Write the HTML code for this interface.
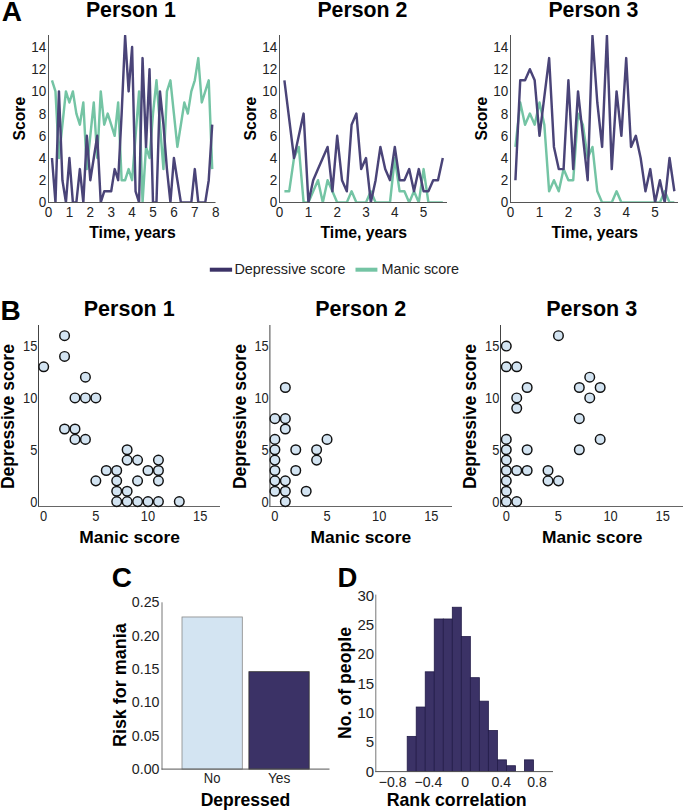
<!DOCTYPE html>
<html><head><meta charset="utf-8"><style>
html,body{margin:0;padding:0;background:#fff;}
svg{display:block;font-family:"Liberation Sans", sans-serif;}
</style></head><body>
<svg width="685" height="811" viewBox="0 0 685 811">
<rect width="685" height="811" fill="#fff"/>
<text x="1.8" y="21.4" font-size="28" font-weight="bold" text-anchor="start" fill="#000">A</text>
<text x="0.5" y="319.8" font-size="28" font-weight="bold" text-anchor="start" fill="#000">B</text>
<text x="111.7" y="586.8" font-size="28" font-weight="bold" text-anchor="start" fill="#000">C</text>
<text x="337.6" y="586.6" font-size="27.5" font-weight="bold" text-anchor="start" fill="#000">D</text>
<text x="130.9" y="16.8" font-size="21.3" font-weight="bold" text-anchor="middle" fill="#000">Person 1</text>
<clipPath id="ca0"><rect x="48.5" y="35" width="167.0" height="167.4"/></clipPath>
<g clip-path="url(#ca0)">
<polyline points="51.98,80.30 55.47,91.40 58.95,158.00 62.43,124.70 65.92,91.40 69.40,102.50 72.88,91.40 76.37,113.60 79.85,124.70 83.33,102.50 86.82,169.10 90.30,135.80 93.78,102.50 97.27,158.00 100.75,91.40 104.23,124.70 107.72,113.60 111.20,124.70 114.68,135.80 118.17,102.50 121.65,180.20 125.13,180.20 128.62,169.10 132.10,180.20 135.58,135.80 139.07,91.40 142.55,202.40 146.03,146.90 149.52,158.00 153.00,113.60 156.48,80.30 159.97,124.70 163.45,169.10 166.93,91.40 170.42,80.30 173.90,113.60 177.38,146.90 180.87,124.70 184.35,102.50 187.83,113.60 191.32,91.40 194.80,80.30 198.28,58.10 201.77,102.50 205.25,91.40 208.73,80.30 212.22,169.10" fill="none" stroke="#74c4a4" stroke-width="2.45" stroke-linejoin="round"/>
<polyline points="51.98,158.00 55.47,202.40 58.95,91.40 62.43,180.20 65.92,202.40 69.40,158.00 72.88,202.40 76.37,202.40 79.85,169.10 83.33,202.40 86.82,135.80 90.30,180.20 93.78,158.00 97.27,135.80 100.75,202.40 104.23,191.30 107.72,191.30 111.20,191.30 114.68,169.10 118.17,180.20 121.65,113.60 125.13,35.90 128.62,91.40 132.10,47.00 135.58,191.30 139.07,202.40 142.55,58.10 146.03,146.90 149.52,69.20 153.00,202.40 156.48,202.40 159.97,91.40 163.45,124.70 166.93,169.10 170.42,202.40 173.90,158.00 177.38,180.20 180.87,202.40 184.35,202.40 187.83,202.40 191.32,202.40 194.80,169.10 198.28,202.40 201.77,202.40 205.25,202.40 208.73,180.20 212.22,124.70" fill="none" stroke="#4a4478" stroke-width="2.45" stroke-linejoin="round"/>
</g>
<line x1="48.5" y1="35" x2="48.5" y2="203" stroke="#555555" stroke-width="1"/>
<line x1="48.0" y1="202.5" x2="215.5" y2="202.5" stroke="#555555" stroke-width="1"/>
<text x="46.2" y="207.3" font-size="15" font-weight="normal" text-anchor="end" fill="#222" textLength="7.51" lengthAdjust="spacingAndGlyphs">0</text>
<text x="46.2" y="185.10000000000002" font-size="15" font-weight="normal" text-anchor="end" fill="#222" textLength="7.51" lengthAdjust="spacingAndGlyphs">2</text>
<text x="46.2" y="162.9" font-size="15" font-weight="normal" text-anchor="end" fill="#222" textLength="7.51" lengthAdjust="spacingAndGlyphs">4</text>
<text x="46.2" y="140.70000000000002" font-size="15" font-weight="normal" text-anchor="end" fill="#222" textLength="7.51" lengthAdjust="spacingAndGlyphs">6</text>
<text x="46.2" y="118.50000000000001" font-size="15" font-weight="normal" text-anchor="end" fill="#222" textLength="7.51" lengthAdjust="spacingAndGlyphs">8</text>
<text x="46.2" y="96.30000000000001" font-size="15" font-weight="normal" text-anchor="end" fill="#222" textLength="15.01" lengthAdjust="spacingAndGlyphs">10</text>
<text x="46.2" y="74.10000000000002" font-size="15" font-weight="normal" text-anchor="end" fill="#222" textLength="15.01" lengthAdjust="spacingAndGlyphs">12</text>
<text x="46.2" y="51.9" font-size="15" font-weight="normal" text-anchor="end" fill="#222" textLength="15.01" lengthAdjust="spacingAndGlyphs">14</text>
<text x="48.5" y="217.3" font-size="15" font-weight="normal" text-anchor="middle" fill="#222" textLength="7.51" lengthAdjust="spacingAndGlyphs">0</text>
<text x="69.4" y="217.3" font-size="15" font-weight="normal" text-anchor="middle" fill="#222" textLength="7.51" lengthAdjust="spacingAndGlyphs">1</text>
<text x="90.3" y="217.3" font-size="15" font-weight="normal" text-anchor="middle" fill="#222" textLength="7.51" lengthAdjust="spacingAndGlyphs">2</text>
<text x="111.19999999999999" y="217.3" font-size="15" font-weight="normal" text-anchor="middle" fill="#222" textLength="7.51" lengthAdjust="spacingAndGlyphs">3</text>
<text x="132.1" y="217.3" font-size="15" font-weight="normal" text-anchor="middle" fill="#222" textLength="7.51" lengthAdjust="spacingAndGlyphs">4</text>
<text x="153.0" y="217.3" font-size="15" font-weight="normal" text-anchor="middle" fill="#222" textLength="7.51" lengthAdjust="spacingAndGlyphs">5</text>
<text x="173.89999999999998" y="217.3" font-size="15" font-weight="normal" text-anchor="middle" fill="#222" textLength="7.51" lengthAdjust="spacingAndGlyphs">6</text>
<text x="194.79999999999998" y="217.3" font-size="15" font-weight="normal" text-anchor="middle" fill="#222" textLength="7.51" lengthAdjust="spacingAndGlyphs">7</text>
<text x="215.7" y="217.3" font-size="15" font-weight="normal" text-anchor="middle" fill="#222" textLength="7.51" lengthAdjust="spacingAndGlyphs">8</text>
<text x="132.5" y="237.6" font-size="15.8" font-weight="bold" text-anchor="middle" fill="#000" textLength="86.6" lengthAdjust="spacingAndGlyphs">Time, years</text>
<text x="24.7" y="118.6" font-size="16.2" font-weight="bold" text-anchor="middle" fill="#000" transform="rotate(-90 24.7 118.6)" textLength="43.6" lengthAdjust="spacingAndGlyphs">Score</text>
<text x="362.4" y="16.8" font-size="21.3" font-weight="bold" text-anchor="middle" fill="#000">Person 2</text>
<clipPath id="ca1"><rect x="279.6" y="35" width="167.39999999999998" height="167.4"/></clipPath>
<g clip-path="url(#ca1)">
<polyline points="284.40,191.30 289.20,191.30 294.00,158.00 298.80,146.90 303.60,202.40 308.40,202.40 313.20,191.30 318.00,180.20 322.80,202.40 327.60,180.20 332.40,191.30 337.20,202.40 342.00,202.40 346.80,202.40 351.60,191.30 356.40,202.40 361.20,202.40 366.00,202.40 370.80,191.30 375.60,202.40 380.40,202.40 385.20,202.40 390.00,202.40 394.80,158.00 399.60,191.30 404.40,191.30 409.20,202.40 414.00,191.30 418.80,202.40 423.60,169.10 428.40,202.40 433.20,202.40 438.00,202.40 442.80,202.40" fill="none" stroke="#74c4a4" stroke-width="2.45" stroke-linejoin="round"/>
<polyline points="284.40,80.30 289.20,119.15 294.00,158.00 298.80,135.80 303.60,113.60 308.40,202.40 313.20,180.20 318.00,169.10 322.80,158.00 327.60,146.90 332.40,191.30 337.20,135.80 342.00,180.20 346.80,191.30 351.60,124.70 356.40,113.60 361.20,169.10 366.00,158.00 370.80,202.40 375.60,180.20 380.40,146.90 385.20,169.10 390.00,180.20 394.80,146.90 399.60,180.20 404.40,180.20 409.20,169.10 414.00,191.30 418.80,169.10 423.60,191.30 428.40,191.30 433.20,180.20 438.00,180.20 442.80,158.00" fill="none" stroke="#4a4478" stroke-width="2.45" stroke-linejoin="round"/>
</g>
<line x1="279.5" y1="35" x2="279.5" y2="203" stroke="#555555" stroke-width="1"/>
<line x1="279.0" y1="202.5" x2="447" y2="202.5" stroke="#555555" stroke-width="1"/>
<text x="277.3" y="207.3" font-size="15" font-weight="normal" text-anchor="end" fill="#222" textLength="7.51" lengthAdjust="spacingAndGlyphs">0</text>
<text x="277.3" y="185.10000000000002" font-size="15" font-weight="normal" text-anchor="end" fill="#222" textLength="7.51" lengthAdjust="spacingAndGlyphs">2</text>
<text x="277.3" y="162.9" font-size="15" font-weight="normal" text-anchor="end" fill="#222" textLength="7.51" lengthAdjust="spacingAndGlyphs">4</text>
<text x="277.3" y="140.70000000000002" font-size="15" font-weight="normal" text-anchor="end" fill="#222" textLength="7.51" lengthAdjust="spacingAndGlyphs">6</text>
<text x="277.3" y="118.50000000000001" font-size="15" font-weight="normal" text-anchor="end" fill="#222" textLength="7.51" lengthAdjust="spacingAndGlyphs">8</text>
<text x="277.3" y="96.30000000000001" font-size="15" font-weight="normal" text-anchor="end" fill="#222" textLength="15.01" lengthAdjust="spacingAndGlyphs">10</text>
<text x="277.3" y="74.10000000000002" font-size="15" font-weight="normal" text-anchor="end" fill="#222" textLength="15.01" lengthAdjust="spacingAndGlyphs">12</text>
<text x="277.3" y="51.9" font-size="15" font-weight="normal" text-anchor="end" fill="#222" textLength="15.01" lengthAdjust="spacingAndGlyphs">14</text>
<text x="279.6" y="217.3" font-size="15" font-weight="normal" text-anchor="middle" fill="#222" textLength="7.51" lengthAdjust="spacingAndGlyphs">0</text>
<text x="308.40000000000003" y="217.3" font-size="15" font-weight="normal" text-anchor="middle" fill="#222" textLength="7.51" lengthAdjust="spacingAndGlyphs">1</text>
<text x="337.20000000000005" y="217.3" font-size="15" font-weight="normal" text-anchor="middle" fill="#222" textLength="7.51" lengthAdjust="spacingAndGlyphs">2</text>
<text x="366.0" y="217.3" font-size="15" font-weight="normal" text-anchor="middle" fill="#222" textLength="7.51" lengthAdjust="spacingAndGlyphs">3</text>
<text x="394.8" y="217.3" font-size="15" font-weight="normal" text-anchor="middle" fill="#222" textLength="7.51" lengthAdjust="spacingAndGlyphs">4</text>
<text x="423.6" y="217.3" font-size="15" font-weight="normal" text-anchor="middle" fill="#222" textLength="7.51" lengthAdjust="spacingAndGlyphs">5</text>
<text x="363.8" y="237.6" font-size="15.8" font-weight="bold" text-anchor="middle" fill="#000" textLength="86.6" lengthAdjust="spacingAndGlyphs">Time, years</text>
<text x="255.8" y="118.6" font-size="16.2" font-weight="bold" text-anchor="middle" fill="#000" transform="rotate(-90 255.8 118.6)" textLength="43.6" lengthAdjust="spacingAndGlyphs">Score</text>
<text x="593.4" y="16.8" font-size="21.3" font-weight="bold" text-anchor="middle" fill="#000">Person 3</text>
<clipPath id="ca2"><rect x="510.6" y="35" width="167.39999999999998" height="167.4"/></clipPath>
<g clip-path="url(#ca2)">
<polyline points="515.42,146.90 520.23,102.50 525.05,124.70 529.87,113.60 534.68,124.70 539.50,102.50 544.32,124.70 549.13,191.30 553.95,180.20 558.77,191.30 563.58,169.10 568.40,180.20 573.22,180.20 578.03,113.60 582.85,124.70 587.67,158.00 592.48,146.90 597.30,191.30 602.12,202.40 606.93,202.40 611.75,202.40 616.57,191.30 621.38,202.40 626.20,202.40 631.02,202.40 635.83,202.40 640.65,202.40 645.47,202.40 650.28,202.40 655.10,202.40 659.92,202.40 664.73,191.30 669.55,202.40 674.37,202.40" fill="none" stroke="#74c4a4" stroke-width="2.45" stroke-linejoin="round"/>
<polyline points="515.42,180.20 520.23,80.30 525.05,80.30 529.87,69.20 534.68,80.30 539.50,135.80 544.32,96.95 549.13,58.10 553.95,146.90 558.77,169.10 563.58,169.10 568.40,80.30 573.22,169.10 578.03,91.40 582.85,135.80 587.67,180.20 592.48,35.90 597.30,102.50 602.12,146.90 606.93,35.90 611.75,169.10 616.57,91.40 621.38,135.80 626.20,58.10 631.02,146.90 635.83,135.80 640.65,158.00 645.47,191.30 650.28,169.10 655.10,202.40 659.92,180.20 664.73,202.40 669.55,158.00 674.37,191.30" fill="none" stroke="#4a4478" stroke-width="2.45" stroke-linejoin="round"/>
</g>
<line x1="510.5" y1="35" x2="510.5" y2="203" stroke="#555555" stroke-width="1"/>
<line x1="510.0" y1="202.5" x2="678" y2="202.5" stroke="#555555" stroke-width="1"/>
<text x="508.3" y="207.3" font-size="15" font-weight="normal" text-anchor="end" fill="#222" textLength="7.51" lengthAdjust="spacingAndGlyphs">0</text>
<text x="508.3" y="185.10000000000002" font-size="15" font-weight="normal" text-anchor="end" fill="#222" textLength="7.51" lengthAdjust="spacingAndGlyphs">2</text>
<text x="508.3" y="162.9" font-size="15" font-weight="normal" text-anchor="end" fill="#222" textLength="7.51" lengthAdjust="spacingAndGlyphs">4</text>
<text x="508.3" y="140.70000000000002" font-size="15" font-weight="normal" text-anchor="end" fill="#222" textLength="7.51" lengthAdjust="spacingAndGlyphs">6</text>
<text x="508.3" y="118.50000000000001" font-size="15" font-weight="normal" text-anchor="end" fill="#222" textLength="7.51" lengthAdjust="spacingAndGlyphs">8</text>
<text x="508.3" y="96.30000000000001" font-size="15" font-weight="normal" text-anchor="end" fill="#222" textLength="15.01" lengthAdjust="spacingAndGlyphs">10</text>
<text x="508.3" y="74.10000000000002" font-size="15" font-weight="normal" text-anchor="end" fill="#222" textLength="15.01" lengthAdjust="spacingAndGlyphs">12</text>
<text x="508.3" y="51.9" font-size="15" font-weight="normal" text-anchor="end" fill="#222" textLength="15.01" lengthAdjust="spacingAndGlyphs">14</text>
<text x="510.6" y="217.3" font-size="15" font-weight="normal" text-anchor="middle" fill="#222" textLength="7.51" lengthAdjust="spacingAndGlyphs">0</text>
<text x="539.5" y="217.3" font-size="15" font-weight="normal" text-anchor="middle" fill="#222" textLength="7.51" lengthAdjust="spacingAndGlyphs">1</text>
<text x="568.4" y="217.3" font-size="15" font-weight="normal" text-anchor="middle" fill="#222" textLength="7.51" lengthAdjust="spacingAndGlyphs">2</text>
<text x="597.3" y="217.3" font-size="15" font-weight="normal" text-anchor="middle" fill="#222" textLength="7.51" lengthAdjust="spacingAndGlyphs">3</text>
<text x="626.2" y="217.3" font-size="15" font-weight="normal" text-anchor="middle" fill="#222" textLength="7.51" lengthAdjust="spacingAndGlyphs">4</text>
<text x="655.1" y="217.3" font-size="15" font-weight="normal" text-anchor="middle" fill="#222" textLength="7.51" lengthAdjust="spacingAndGlyphs">5</text>
<text x="594.8" y="237.6" font-size="15.8" font-weight="bold" text-anchor="middle" fill="#000" textLength="86.6" lengthAdjust="spacingAndGlyphs">Time, years</text>
<text x="486.8" y="118.6" font-size="16.2" font-weight="bold" text-anchor="middle" fill="#000" transform="rotate(-90 486.8 118.6)" textLength="43.6" lengthAdjust="spacingAndGlyphs">Score</text>
<rect x="209.8" y="267.7" width="22.3" height="4" fill="#3b3266"/>
<text x="234.4" y="273.8" font-size="14.4" font-weight="normal" text-anchor="start" fill="#222">Depressive score</text>
<rect x="355.5" y="267.7" width="21.9" height="4" fill="#74c4a4"/>
<text x="381.5" y="273.8" font-size="14.4" font-weight="normal" text-anchor="start" fill="#222">Manic score</text>
<text x="129.2" y="315.5" font-size="21.5" font-weight="bold" text-anchor="middle" fill="#000">Person 1</text>
<line x1="38.5" y1="325" x2="38.5" y2="507.0" stroke="#444" stroke-width="1"/>
<line x1="38.0" y1="506.5" x2="220" y2="506.5" stroke="#666" stroke-width="1.2"/>
<text x="37.3" y="506.5" font-size="14.3" font-weight="normal" text-anchor="end" fill="#222" textLength="7.16" lengthAdjust="spacingAndGlyphs">0</text>
<text x="37.3" y="454.65" font-size="14.3" font-weight="normal" text-anchor="end" fill="#222" textLength="7.16" lengthAdjust="spacingAndGlyphs">5</text>
<text x="37.3" y="402.8" font-size="14.3" font-weight="normal" text-anchor="end" fill="#222" textLength="14.31" lengthAdjust="spacingAndGlyphs">10</text>
<text x="37.3" y="350.95000000000005" font-size="14.3" font-weight="normal" text-anchor="end" fill="#222" textLength="14.31" lengthAdjust="spacingAndGlyphs">15</text>
<text x="43.7" y="520.8" font-size="14.3" font-weight="normal" text-anchor="middle" fill="#222" textLength="7.16" lengthAdjust="spacingAndGlyphs">0</text>
<text x="95.85" y="520.8" font-size="14.3" font-weight="normal" text-anchor="middle" fill="#222" textLength="7.16" lengthAdjust="spacingAndGlyphs">5</text>
<text x="148.0" y="520.8" font-size="14.3" font-weight="normal" text-anchor="middle" fill="#222" textLength="14.31" lengthAdjust="spacingAndGlyphs">10</text>
<text x="200.14999999999998" y="520.8" font-size="14.3" font-weight="normal" text-anchor="middle" fill="#222" textLength="14.31" lengthAdjust="spacingAndGlyphs">15</text>
<text x="129.60000000000002" y="543.3" font-size="17" font-weight="bold" text-anchor="middle" fill="#000" textLength="100.6" lengthAdjust="spacingAndGlyphs">Manic score</text>
<text x="14.3" y="416.6" font-size="17.5" font-weight="bold" text-anchor="middle" fill="#000" transform="rotate(-90 14.3 416.6)" textLength="145" lengthAdjust="spacingAndGlyphs">Depressive score</text>
<circle cx="43.70" cy="366.79" r="4.8" fill="#d3e4f2" stroke="#111" stroke-width="1.45"/>
<circle cx="64.56" cy="335.68" r="4.8" fill="#d3e4f2" stroke="#111" stroke-width="1.45"/>
<circle cx="64.56" cy="356.42" r="4.8" fill="#d3e4f2" stroke="#111" stroke-width="1.45"/>
<circle cx="85.42" cy="377.16" r="4.8" fill="#d3e4f2" stroke="#111" stroke-width="1.45"/>
<circle cx="74.99" cy="397.90" r="4.8" fill="#d3e4f2" stroke="#111" stroke-width="1.45"/>
<circle cx="85.42" cy="397.90" r="4.8" fill="#d3e4f2" stroke="#111" stroke-width="1.45"/>
<circle cx="95.85" cy="397.90" r="4.8" fill="#d3e4f2" stroke="#111" stroke-width="1.45"/>
<circle cx="64.56" cy="429.01" r="4.8" fill="#d3e4f2" stroke="#111" stroke-width="1.45"/>
<circle cx="74.99" cy="429.01" r="4.8" fill="#d3e4f2" stroke="#111" stroke-width="1.45"/>
<circle cx="74.99" cy="439.38" r="4.8" fill="#d3e4f2" stroke="#111" stroke-width="1.45"/>
<circle cx="85.42" cy="439.38" r="4.8" fill="#d3e4f2" stroke="#111" stroke-width="1.45"/>
<circle cx="127.14" cy="449.75" r="4.8" fill="#d3e4f2" stroke="#111" stroke-width="1.45"/>
<circle cx="127.14" cy="460.12" r="4.8" fill="#d3e4f2" stroke="#111" stroke-width="1.45"/>
<circle cx="137.57" cy="460.12" r="4.8" fill="#d3e4f2" stroke="#111" stroke-width="1.45"/>
<circle cx="158.43" cy="460.12" r="4.8" fill="#d3e4f2" stroke="#111" stroke-width="1.45"/>
<circle cx="106.28" cy="470.49" r="4.8" fill="#d3e4f2" stroke="#111" stroke-width="1.45"/>
<circle cx="116.71" cy="470.49" r="4.8" fill="#d3e4f2" stroke="#111" stroke-width="1.45"/>
<circle cx="148.00" cy="470.49" r="4.8" fill="#d3e4f2" stroke="#111" stroke-width="1.45"/>
<circle cx="158.43" cy="470.49" r="4.8" fill="#d3e4f2" stroke="#111" stroke-width="1.45"/>
<circle cx="95.85" cy="480.86" r="4.8" fill="#d3e4f2" stroke="#111" stroke-width="1.45"/>
<circle cx="116.71" cy="480.86" r="4.8" fill="#d3e4f2" stroke="#111" stroke-width="1.45"/>
<circle cx="137.57" cy="480.86" r="4.8" fill="#d3e4f2" stroke="#111" stroke-width="1.45"/>
<circle cx="158.43" cy="480.86" r="4.8" fill="#d3e4f2" stroke="#111" stroke-width="1.45"/>
<circle cx="116.71" cy="491.23" r="4.8" fill="#d3e4f2" stroke="#111" stroke-width="1.45"/>
<circle cx="127.14" cy="491.23" r="4.8" fill="#d3e4f2" stroke="#111" stroke-width="1.45"/>
<circle cx="116.71" cy="501.60" r="4.8" fill="#d3e4f2" stroke="#111" stroke-width="1.45"/>
<circle cx="127.14" cy="501.60" r="4.8" fill="#d3e4f2" stroke="#111" stroke-width="1.45"/>
<circle cx="137.57" cy="501.60" r="4.8" fill="#d3e4f2" stroke="#111" stroke-width="1.45"/>
<circle cx="148.00" cy="501.60" r="4.8" fill="#d3e4f2" stroke="#111" stroke-width="1.45"/>
<circle cx="158.43" cy="501.60" r="4.8" fill="#d3e4f2" stroke="#111" stroke-width="1.45"/>
<circle cx="179.29" cy="501.60" r="4.8" fill="#d3e4f2" stroke="#111" stroke-width="1.45"/>
<text x="360.7" y="315.5" font-size="21.5" font-weight="bold" text-anchor="middle" fill="#000">Person 2</text>
<line x1="269.9" y1="325" x2="269.9" y2="507.0" stroke="#444" stroke-width="1"/>
<line x1="269.4" y1="506.5" x2="452" y2="506.5" stroke="#666" stroke-width="1.2"/>
<text x="268.7" y="506.5" font-size="14.3" font-weight="normal" text-anchor="end" fill="#222" textLength="7.16" lengthAdjust="spacingAndGlyphs">0</text>
<text x="268.7" y="454.65" font-size="14.3" font-weight="normal" text-anchor="end" fill="#222" textLength="7.16" lengthAdjust="spacingAndGlyphs">5</text>
<text x="268.7" y="402.8" font-size="14.3" font-weight="normal" text-anchor="end" fill="#222" textLength="14.31" lengthAdjust="spacingAndGlyphs">10</text>
<text x="268.7" y="350.95000000000005" font-size="14.3" font-weight="normal" text-anchor="end" fill="#222" textLength="14.31" lengthAdjust="spacingAndGlyphs">15</text>
<text x="274.9" y="520.8" font-size="14.3" font-weight="normal" text-anchor="middle" fill="#222" textLength="7.16" lengthAdjust="spacingAndGlyphs">0</text>
<text x="327.04999999999995" y="520.8" font-size="14.3" font-weight="normal" text-anchor="middle" fill="#222" textLength="7.16" lengthAdjust="spacingAndGlyphs">5</text>
<text x="379.2" y="520.8" font-size="14.3" font-weight="normal" text-anchor="middle" fill="#222" textLength="14.31" lengthAdjust="spacingAndGlyphs">10</text>
<text x="431.34999999999997" y="520.8" font-size="14.3" font-weight="normal" text-anchor="middle" fill="#222" textLength="14.31" lengthAdjust="spacingAndGlyphs">15</text>
<text x="360.79999999999995" y="543.3" font-size="17" font-weight="bold" text-anchor="middle" fill="#000" textLength="100.6" lengthAdjust="spacingAndGlyphs">Manic score</text>
<text x="245.7" y="416.6" font-size="17.5" font-weight="bold" text-anchor="middle" fill="#000" transform="rotate(-90 245.7 416.6)" textLength="145" lengthAdjust="spacingAndGlyphs">Depressive score</text>
<circle cx="285.33" cy="387.53" r="4.8" fill="#d3e4f2" stroke="#111" stroke-width="1.45"/>
<circle cx="274.90" cy="418.64" r="4.8" fill="#d3e4f2" stroke="#111" stroke-width="1.45"/>
<circle cx="285.33" cy="418.64" r="4.8" fill="#d3e4f2" stroke="#111" stroke-width="1.45"/>
<circle cx="285.33" cy="429.01" r="4.8" fill="#d3e4f2" stroke="#111" stroke-width="1.45"/>
<circle cx="274.90" cy="439.38" r="4.8" fill="#d3e4f2" stroke="#111" stroke-width="1.45"/>
<circle cx="327.05" cy="439.38" r="4.8" fill="#d3e4f2" stroke="#111" stroke-width="1.45"/>
<circle cx="274.90" cy="449.75" r="4.8" fill="#d3e4f2" stroke="#111" stroke-width="1.45"/>
<circle cx="295.76" cy="449.75" r="4.8" fill="#d3e4f2" stroke="#111" stroke-width="1.45"/>
<circle cx="316.62" cy="449.75" r="4.8" fill="#d3e4f2" stroke="#111" stroke-width="1.45"/>
<circle cx="274.90" cy="460.12" r="4.8" fill="#d3e4f2" stroke="#111" stroke-width="1.45"/>
<circle cx="316.62" cy="460.12" r="4.8" fill="#d3e4f2" stroke="#111" stroke-width="1.45"/>
<circle cx="274.90" cy="470.49" r="4.8" fill="#d3e4f2" stroke="#111" stroke-width="1.45"/>
<circle cx="295.76" cy="470.49" r="4.8" fill="#d3e4f2" stroke="#111" stroke-width="1.45"/>
<circle cx="274.90" cy="480.86" r="4.8" fill="#d3e4f2" stroke="#111" stroke-width="1.45"/>
<circle cx="285.33" cy="480.86" r="4.8" fill="#d3e4f2" stroke="#111" stroke-width="1.45"/>
<circle cx="274.90" cy="491.23" r="4.8" fill="#d3e4f2" stroke="#111" stroke-width="1.45"/>
<circle cx="285.33" cy="491.23" r="4.8" fill="#d3e4f2" stroke="#111" stroke-width="1.45"/>
<circle cx="306.19" cy="491.23" r="4.8" fill="#d3e4f2" stroke="#111" stroke-width="1.45"/>
<circle cx="285.33" cy="501.60" r="4.8" fill="#d3e4f2" stroke="#111" stroke-width="1.45"/>
<text x="591.7" y="315.5" font-size="21.5" font-weight="bold" text-anchor="middle" fill="#000">Person 3</text>
<line x1="500.5" y1="325" x2="500.5" y2="507.0" stroke="#444" stroke-width="1"/>
<line x1="500.0" y1="506.5" x2="683" y2="506.5" stroke="#666" stroke-width="1.2"/>
<text x="499.3" y="506.5" font-size="14.3" font-weight="normal" text-anchor="end" fill="#222" textLength="7.16" lengthAdjust="spacingAndGlyphs">0</text>
<text x="499.3" y="454.65" font-size="14.3" font-weight="normal" text-anchor="end" fill="#222" textLength="7.16" lengthAdjust="spacingAndGlyphs">5</text>
<text x="499.3" y="402.8" font-size="14.3" font-weight="normal" text-anchor="end" fill="#222" textLength="14.31" lengthAdjust="spacingAndGlyphs">10</text>
<text x="499.3" y="350.95000000000005" font-size="14.3" font-weight="normal" text-anchor="end" fill="#222" textLength="14.31" lengthAdjust="spacingAndGlyphs">15</text>
<text x="506.3" y="520.8" font-size="14.3" font-weight="normal" text-anchor="middle" fill="#222" textLength="7.16" lengthAdjust="spacingAndGlyphs">0</text>
<text x="558.45" y="520.8" font-size="14.3" font-weight="normal" text-anchor="middle" fill="#222" textLength="7.16" lengthAdjust="spacingAndGlyphs">5</text>
<text x="610.6" y="520.8" font-size="14.3" font-weight="normal" text-anchor="middle" fill="#222" textLength="14.31" lengthAdjust="spacingAndGlyphs">10</text>
<text x="662.75" y="520.8" font-size="14.3" font-weight="normal" text-anchor="middle" fill="#222" textLength="14.31" lengthAdjust="spacingAndGlyphs">15</text>
<text x="592.2" y="543.3" font-size="17" font-weight="bold" text-anchor="middle" fill="#000" textLength="100.6" lengthAdjust="spacingAndGlyphs">Manic score</text>
<text x="476.3" y="416.6" font-size="17.5" font-weight="bold" text-anchor="middle" fill="#000" transform="rotate(-90 476.3 416.6)" textLength="145" lengthAdjust="spacingAndGlyphs">Depressive score</text>
<circle cx="558.45" cy="335.68" r="4.8" fill="#d3e4f2" stroke="#111" stroke-width="1.45"/>
<circle cx="506.30" cy="346.05" r="4.8" fill="#d3e4f2" stroke="#111" stroke-width="1.45"/>
<circle cx="506.30" cy="366.79" r="4.8" fill="#d3e4f2" stroke="#111" stroke-width="1.45"/>
<circle cx="516.73" cy="366.79" r="4.8" fill="#d3e4f2" stroke="#111" stroke-width="1.45"/>
<circle cx="589.74" cy="377.16" r="4.8" fill="#d3e4f2" stroke="#111" stroke-width="1.45"/>
<circle cx="527.16" cy="387.53" r="4.8" fill="#d3e4f2" stroke="#111" stroke-width="1.45"/>
<circle cx="579.31" cy="387.53" r="4.8" fill="#d3e4f2" stroke="#111" stroke-width="1.45"/>
<circle cx="600.17" cy="387.53" r="4.8" fill="#d3e4f2" stroke="#111" stroke-width="1.45"/>
<circle cx="516.73" cy="397.90" r="4.8" fill="#d3e4f2" stroke="#111" stroke-width="1.45"/>
<circle cx="589.74" cy="397.90" r="4.8" fill="#d3e4f2" stroke="#111" stroke-width="1.45"/>
<circle cx="516.73" cy="408.27" r="4.8" fill="#d3e4f2" stroke="#111" stroke-width="1.45"/>
<circle cx="579.31" cy="418.64" r="4.8" fill="#d3e4f2" stroke="#111" stroke-width="1.45"/>
<circle cx="506.30" cy="439.38" r="4.8" fill="#d3e4f2" stroke="#111" stroke-width="1.45"/>
<circle cx="600.17" cy="439.38" r="4.8" fill="#d3e4f2" stroke="#111" stroke-width="1.45"/>
<circle cx="506.30" cy="449.75" r="4.8" fill="#d3e4f2" stroke="#111" stroke-width="1.45"/>
<circle cx="527.16" cy="449.75" r="4.8" fill="#d3e4f2" stroke="#111" stroke-width="1.45"/>
<circle cx="579.31" cy="449.75" r="4.8" fill="#d3e4f2" stroke="#111" stroke-width="1.45"/>
<circle cx="506.30" cy="460.12" r="4.8" fill="#d3e4f2" stroke="#111" stroke-width="1.45"/>
<circle cx="506.30" cy="470.49" r="4.8" fill="#d3e4f2" stroke="#111" stroke-width="1.45"/>
<circle cx="516.73" cy="470.49" r="4.8" fill="#d3e4f2" stroke="#111" stroke-width="1.45"/>
<circle cx="527.16" cy="470.49" r="4.8" fill="#d3e4f2" stroke="#111" stroke-width="1.45"/>
<circle cx="548.02" cy="470.49" r="4.8" fill="#d3e4f2" stroke="#111" stroke-width="1.45"/>
<circle cx="506.30" cy="480.86" r="4.8" fill="#d3e4f2" stroke="#111" stroke-width="1.45"/>
<circle cx="548.02" cy="480.86" r="4.8" fill="#d3e4f2" stroke="#111" stroke-width="1.45"/>
<circle cx="558.45" cy="480.86" r="4.8" fill="#d3e4f2" stroke="#111" stroke-width="1.45"/>
<circle cx="506.30" cy="491.23" r="4.8" fill="#d3e4f2" stroke="#111" stroke-width="1.45"/>
<circle cx="506.30" cy="501.60" r="4.8" fill="#d3e4f2" stroke="#111" stroke-width="1.45"/>
<circle cx="516.73" cy="501.60" r="4.8" fill="#d3e4f2" stroke="#111" stroke-width="1.45"/>
<rect x="182" y="616.98" width="60.3" height="152.12" fill="#d3e4f2" stroke="#888" stroke-width="0.8"/>
<rect x="248.9" y="671.69" width="60.3" height="97.41" fill="#3b3266" stroke="#333" stroke-width="0.8"/>
<line x1="162.0" y1="602.3" x2="162.0" y2="769.6" stroke="#777" stroke-width="1"/>
<line x1="161.5" y1="769.1" x2="329.5" y2="769.1" stroke="#555" stroke-width="1"/>
<text x="159.5" y="774.1" font-size="15" font-weight="normal" text-anchor="end" fill="#222" textLength="27.73" lengthAdjust="spacingAndGlyphs">0.00</text>
<text x="159.5" y="740.74" font-size="15" font-weight="normal" text-anchor="end" fill="#222" textLength="27.73" lengthAdjust="spacingAndGlyphs">0.05</text>
<text x="159.5" y="707.38" font-size="15" font-weight="normal" text-anchor="end" fill="#222" textLength="27.73" lengthAdjust="spacingAndGlyphs">0.10</text>
<text x="159.5" y="674.02" font-size="15" font-weight="normal" text-anchor="end" fill="#222" textLength="27.73" lengthAdjust="spacingAndGlyphs">0.15</text>
<text x="159.5" y="640.66" font-size="15" font-weight="normal" text-anchor="end" fill="#222" textLength="27.73" lengthAdjust="spacingAndGlyphs">0.20</text>
<text x="159.5" y="607.3" font-size="15" font-weight="normal" text-anchor="end" fill="#222" textLength="27.73" lengthAdjust="spacingAndGlyphs">0.25</text>
<text x="212.1" y="783.0" font-size="15" font-weight="normal" text-anchor="middle" fill="#222" textLength="16.68" lengthAdjust="spacingAndGlyphs">No</text>
<text x="279.2" y="783.0" font-size="15" font-weight="normal" text-anchor="middle" fill="#222" textLength="22.5" lengthAdjust="spacingAndGlyphs">Yes</text>
<text x="245.5" y="806.0" font-size="17.5" font-weight="bold" text-anchor="middle" fill="#000" textLength="89.7" lengthAdjust="spacingAndGlyphs">Depressed</text>
<text x="126.3" y="685.2" font-size="17.8" font-weight="bold" text-anchor="middle" fill="#000" transform="rotate(-90 126.3 685.2)" textLength="123.7" lengthAdjust="spacingAndGlyphs">Risk for mania</text>
<rect x="407.20" y="736.38" width="9.02" height="35.22" fill="#3b3266" stroke="#221b48" stroke-width="0.8"/>
<rect x="416.22" y="707.03" width="9.02" height="64.57" fill="#3b3266" stroke="#221b48" stroke-width="0.8"/>
<rect x="425.24" y="671.81" width="9.02" height="99.79" fill="#3b3266" stroke="#221b48" stroke-width="0.8"/>
<rect x="434.26" y="618.98" width="9.02" height="152.62" fill="#3b3266" stroke="#221b48" stroke-width="0.8"/>
<rect x="443.28" y="618.98" width="9.02" height="152.62" fill="#3b3266" stroke="#221b48" stroke-width="0.8"/>
<rect x="452.30" y="607.24" width="9.02" height="164.36" fill="#3b3266" stroke="#221b48" stroke-width="0.8"/>
<rect x="461.32" y="636.59" width="9.02" height="135.01" fill="#3b3266" stroke="#221b48" stroke-width="0.8"/>
<rect x="470.34" y="677.68" width="9.02" height="93.92" fill="#3b3266" stroke="#221b48" stroke-width="0.8"/>
<rect x="479.36" y="701.16" width="9.02" height="70.44" fill="#3b3266" stroke="#221b48" stroke-width="0.8"/>
<rect x="488.38" y="730.51" width="9.02" height="41.09" fill="#3b3266" stroke="#221b48" stroke-width="0.8"/>
<rect x="497.40" y="759.86" width="9.02" height="11.74" fill="#3b3266" stroke="#221b48" stroke-width="0.8"/>
<rect x="506.42" y="765.73" width="9.02" height="5.87" fill="#3b3266" stroke="#221b48" stroke-width="0.8"/>
<rect x="524.46" y="759.86" width="9.02" height="11.74" fill="#3b3266" stroke="#221b48" stroke-width="0.8"/>
<line x1="375.8" y1="594.6" x2="375.8" y2="772.1" stroke="#777" stroke-width="1"/>
<line x1="375.3" y1="771.6" x2="553" y2="771.6" stroke="#555" stroke-width="1"/>
<text x="374.2" y="776.6" font-size="15" font-weight="normal" text-anchor="end" fill="#222" textLength="8.34" lengthAdjust="spacingAndGlyphs">0</text>
<text x="374.2" y="747.25" font-size="15" font-weight="normal" text-anchor="end" fill="#222" textLength="8.34" lengthAdjust="spacingAndGlyphs">5</text>
<text x="374.2" y="717.9" font-size="15" font-weight="normal" text-anchor="end" fill="#222" textLength="16.68" lengthAdjust="spacingAndGlyphs">10</text>
<text x="374.2" y="688.5500000000001" font-size="15" font-weight="normal" text-anchor="end" fill="#222" textLength="16.68" lengthAdjust="spacingAndGlyphs">15</text>
<text x="374.2" y="659.2" font-size="15" font-weight="normal" text-anchor="end" fill="#222" textLength="16.68" lengthAdjust="spacingAndGlyphs">20</text>
<text x="374.2" y="629.85" font-size="15" font-weight="normal" text-anchor="end" fill="#222" textLength="16.68" lengthAdjust="spacingAndGlyphs">25</text>
<text x="374.2" y="600.5" font-size="15" font-weight="normal" text-anchor="end" fill="#222" textLength="16.68" lengthAdjust="spacingAndGlyphs">30</text>
<text x="392.6" y="786.5" font-size="14.5" font-weight="normal" text-anchor="middle" fill="#222" textLength="27.76" lengthAdjust="spacingAndGlyphs">−0.8</text>
<text x="428.4" y="786.5" font-size="14.5" font-weight="normal" text-anchor="middle" fill="#222" textLength="27.76" lengthAdjust="spacingAndGlyphs">−0.4</text>
<text x="465.2" y="786.5" font-size="14.5" font-weight="normal" text-anchor="middle" fill="#222" textLength="7.82" lengthAdjust="spacingAndGlyphs">0</text>
<text x="501.2" y="786.5" font-size="14.5" font-weight="normal" text-anchor="middle" fill="#222" textLength="19.55" lengthAdjust="spacingAndGlyphs">0.4</text>
<text x="537.0" y="786.5" font-size="14.5" font-weight="normal" text-anchor="middle" fill="#222" textLength="19.55" lengthAdjust="spacingAndGlyphs">0.8</text>
<text x="456.7" y="805.5" font-size="17.7" font-weight="bold" text-anchor="middle" fill="#000" textLength="140" lengthAdjust="spacingAndGlyphs">Rank correlation</text>
<text x="350.8" y="683" font-size="17.7" font-weight="bold" text-anchor="middle" fill="#000" transform="rotate(-90 350.8 683)" textLength="112" lengthAdjust="spacingAndGlyphs">No. of people</text>
</svg>
</body></html>
